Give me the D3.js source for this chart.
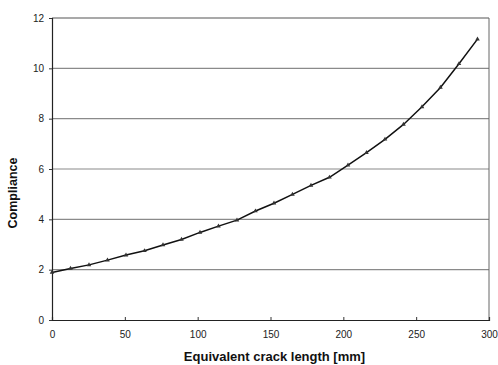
<!DOCTYPE html>
<html>
<head>
<meta charset="utf-8">
<script src="https://cdn.jsdelivr.net/npm/d3@7"></script>
<style>
  body { margin: 0; background: #fff; }
  svg { display: block; font-family: "Liberation Sans", Arial, sans-serif; }
</style>
</head>
<body>
<svg id="chart" width="498" height="365"></svg>
<script>
// crack length in mm (half-inch steps) and measured compliance
var crackLength = [0, 12.7, 25.4, 38.1, 50.8, 63.5, 76.2, 88.9, 101.6, 114.3, 127, 139.7,
    152.4, 165.1, 177.8, 190.5, 203.2, 215.9, 228.6, 241.3, 254, 266.7, 279.4, 292.1];
var compliance = [1.89, 2.05, 2.19, 2.38, 2.58, 2.75, 2.98, 3.2, 3.48, 3.73, 3.97, 4.33,
    4.64, 4.99, 5.35, 5.67, 6.15, 6.65, 7.18, 7.77, 8.47, 9.24, 10.18, 11.16];
var xTicks = [0, 50, 100, 150, 200, 250, 300];
var yTicks = [0, 2, 4, 6, 8, 10, 12];

var svg = d3.select("#chart");
var margin = {left: 52, right: 9, top: 18, bottom: 45};
var width = 498 - margin.left - margin.right,
    height = 365 - margin.top - margin.bottom;

var x = d3.scaleLinear().domain([0, 300]).range([0, width]);
var y = d3.scaleLinear().domain([0, 12]).range([height, 0]);

var g = svg.append("g")
    .attr("transform", "translate(" + margin.left + "," + margin.top + ")");

// gridlines
g.selectAll(".grid")
    .data(yTicks.slice(1))
    .enter()
    .append("line")
    .attr("x1", 0)
    .attr("x2", width)
    .attr("y1", function (d) { return y(d); })
    .attr("y2", function (d) { return y(d); })
    .style("stroke", function (d) { return d === 12 ? "#555" : "#8a8a8a"; })
    .style("stroke-width", 1.1);

// right border
g.append("line")
    .attr("x1", width).attr("x2", width)
    .attr("y1", 0).attr("y2", height)
    .style("stroke", "#666")
    .style("stroke-width", 1);

var xAxis = g.append("g")
    .attr("transform", "translate(0," + height + ")")
    .call(d3.axisBottom(x).tickValues(xTicks).tickSize(-3).tickPadding(11));

var yAxis = g.append("g")
    .call(d3.axisLeft(y).tickValues(yTicks).tickSize(3).tickPadding(5));

[xAxis, yAxis].forEach(function (ax) {
    ax.selectAll("text")
        .style("font-family", "'Liberation Sans', Arial, sans-serif")
        .style("font-size", "10px")
        .style("fill", "#222");
    ax.selectAll("line").style("stroke", "#333");
    ax.select(".domain").style("stroke", "#222").style("stroke-width", 1.2);
});
xAxis.selectAll("text").attr("dy", "0.71em");

// curve
var line = d3.line()
    .x(function (d, i) { return x(crackLength[i]); })
    .y(function (d) { return y(d); });

g.append("path")
    .datum(compliance)
    .attr("d", line)
    .style("fill", "none")
    .style("stroke", "#111")
    .style("stroke-width", 1.5);

var marker = d3.symbol().type(d3.symbolTriangle).size(9);
g.selectAll(".pt")
    .data(compliance)
    .enter()
    .append("path")
    .attr("transform", function (d, i) {
        return "translate(" + x(crackLength[i]) + "," + y(d) + ")";
    })
    .attr("d", marker)
    .style("fill", "#333");

// axis titles
svg.append("text")
    .attr("x", margin.left + width / 2 + 4)
    .attr("y", 361)
    .attr("text-anchor", "middle")
    .style("font-size", "13px")
    .style("font-weight", "bold")
    .style("fill", "#111")
    .text("Equivalent crack length [mm]");

svg.append("text")
    .attr("transform", "translate(17,193) rotate(-90)")
    .attr("text-anchor", "middle")
    .style("font-size", "12.5px")
    .style("font-weight", "bold")
    .style("fill", "#111")
    .text("Compliance");
</script>
</body>
</html>
